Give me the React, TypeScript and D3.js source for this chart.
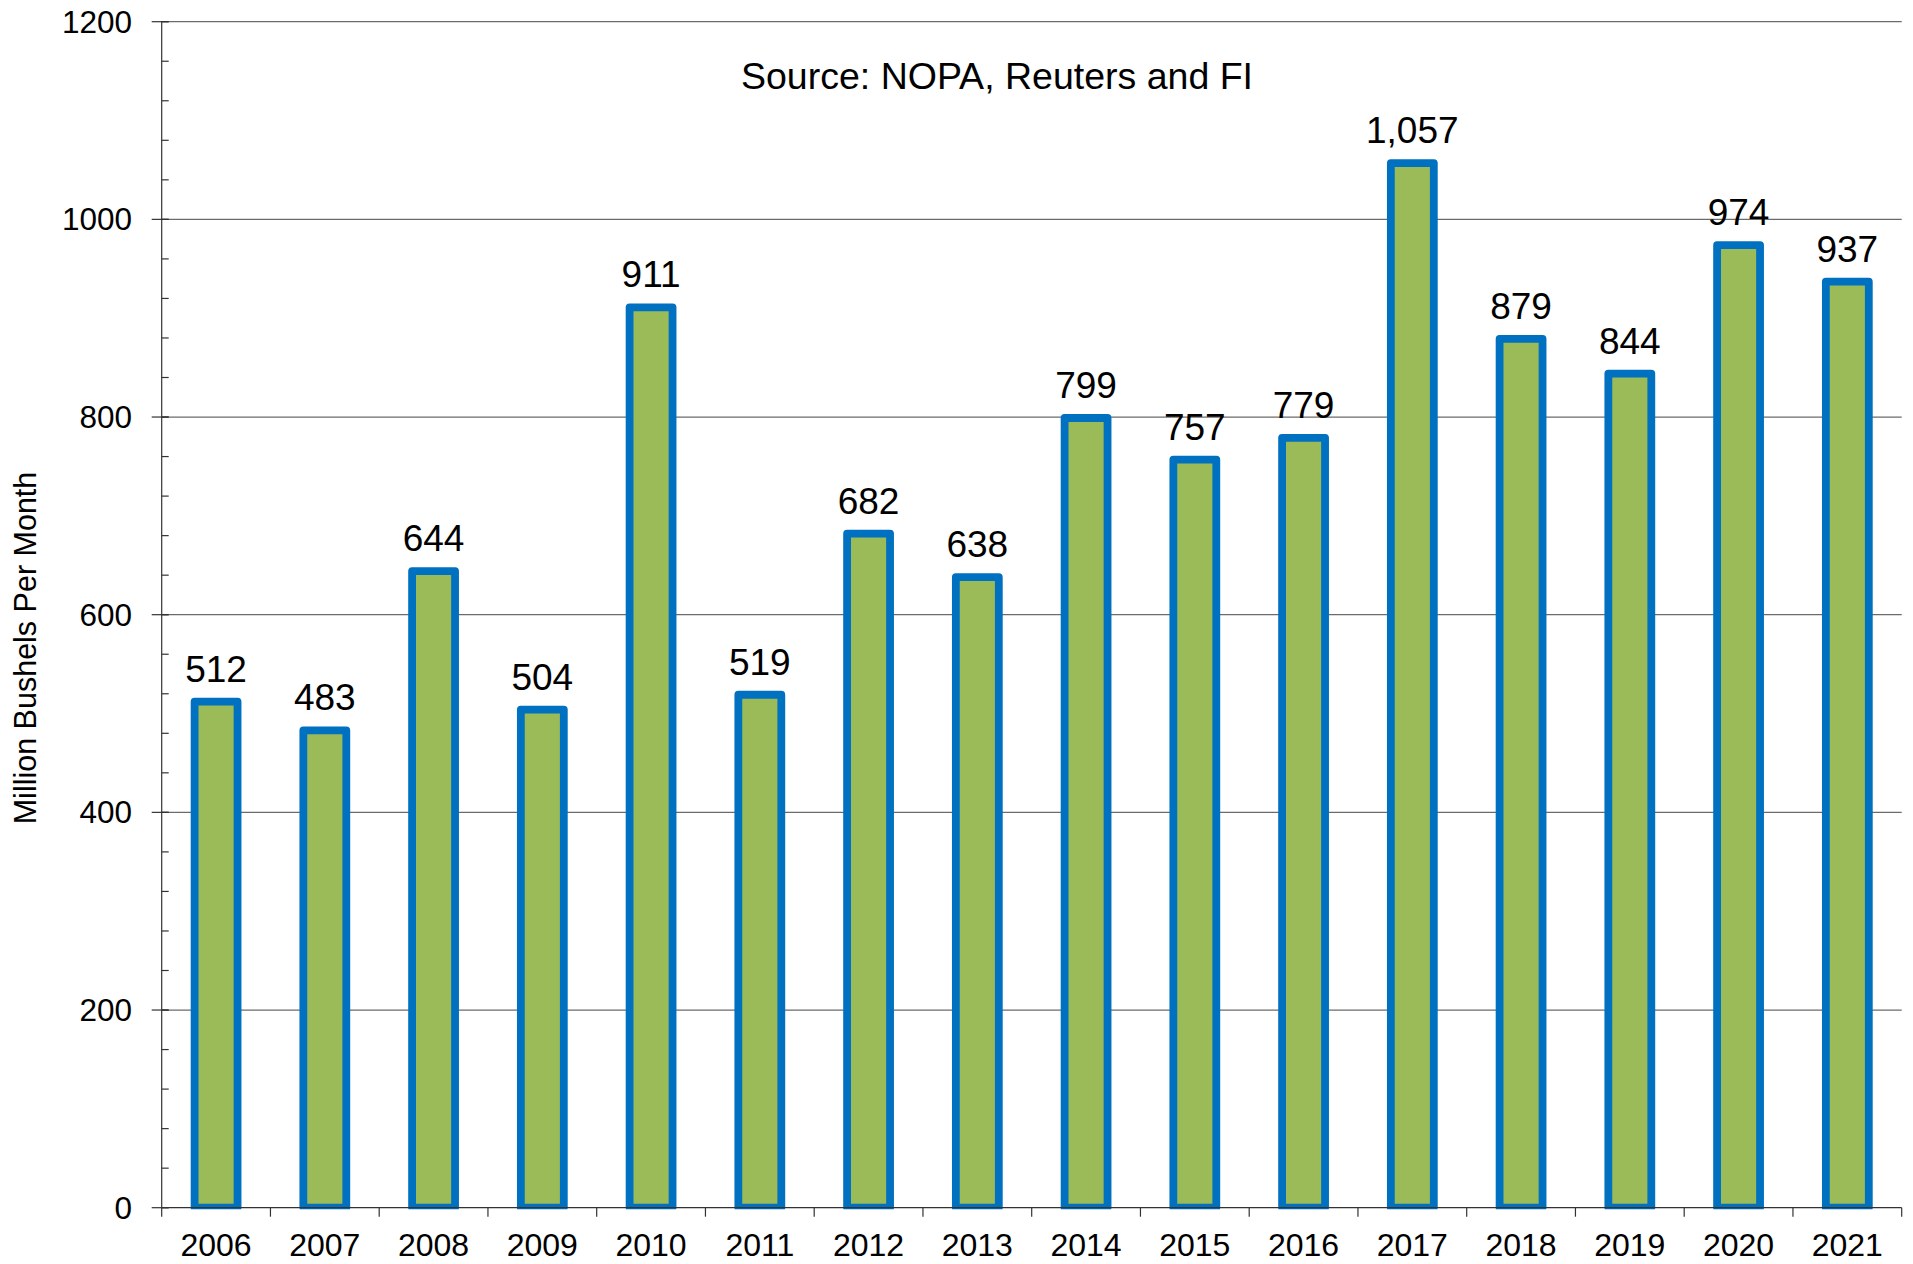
import React from "react";
import * as d3 from "d3";

const years = ["2006","2007","2008","2009","2010","2011","2012","2013","2014","2015","2016","2017","2018","2019","2020","2021"];
const values = [512,483,644,504,911,519,682,638,799,757,779,1057,879,844,974,937];
const majorTicks = [0,200,400,600,800,1000,1200];
const minorTicks = d3.range(0, 1201, 40);

const W = 1913, H = 1264;
const left = 161.7, right = 1901.7, top = 21.7, bottom = 1207.7;
const font = "'Liberation Sans', Arial, sans-serif";

export default function App() {
  const x = d3.scaleBand<string>().domain(years).range([left, right]).padding(0);
  const y = d3.scaleLinear().domain([0, 1200]).range([bottom, top]);
  const bw = x.bandwidth() * 0.395;
  const fmt = d3.format(",");
  const boundaries = years.map((d) => x(d) as number).concat([right]);

  return (
    <svg width={W} height={H} style={{ position: "absolute", left: 0, top: 0, display: "block", background: "#fff" }} fontFamily={font}>
      {majorTicks.filter((t) => t > 0).map((t) => (
        <line key={"g" + t} x1={left} x2={right} y1={y(t)} y2={y(t)} stroke="#6b6b6b" strokeWidth={1.2} />
      ))}
      <defs>
        <clipPath id="plotclip">
          <rect x={left} y={0} width={right - left} height={bottom + 1.5} />
        </clipPath>
      </defs>
      <g clipPath="url(#plotclip)">
        {values.map((v, i) => {
          const cx = (x(years[i]) as number) + x.bandwidth() / 2;
          return (
            <rect key={"b" + i} x={cx - bw / 2} y={y(v)} width={bw} height={bottom - y(v)}
              fill="#9BBB59" stroke="#0070C0" strokeWidth={7.8} strokeLinejoin="round" />
          );
        })}
      </g>
      {values.map((v, i) => {
        const cx = (x(years[i]) as number) + x.bandwidth() / 2;
        return (
          <text key={"l" + i} x={cx} y={y(v) - 20} textAnchor="middle" fontSize={37} fill="#000">{fmt(v)}</text>
        );
      })}
      <line x1={left} x2={left} y1={top} y2={bottom} stroke="#333" strokeWidth={1.2} />
      {minorTicks.map((t) => (
        <line key={"mt" + t} x1={left} x2={left + 7} y1={y(t)} y2={y(t)} stroke="#333" strokeWidth={1.2} />
      ))}
      {majorTicks.map((t) => (
        <g key={"yt" + t}>
          <line x1={left - 10} x2={left + 7} y1={y(t)} y2={y(t)} stroke="#333" strokeWidth={1.2} />
          <text x={132} y={y(t) + 11} textAnchor="end" fontSize={31.5} fill="#000">{t}</text>
        </g>
      ))}
      <line x1={left} x2={right} y1={bottom} y2={bottom} stroke="#333" strokeWidth={1.2} />
      {boundaries.map((b, i) => (
        <line key={"xt" + i} x1={b} x2={b} y1={bottom} y2={bottom + 9} stroke="#333" strokeWidth={1.2} />
      ))}
      {years.map((yr) => (
        <text key={"xl" + yr} x={(x(yr) as number) + x.bandwidth() / 2} y={1256} textAnchor="middle" fontSize={32} fill="#000">{yr}</text>
      ))}
      <text transform={`translate(36,648) rotate(-90)`} textAnchor="middle" fontSize={30.5} fill="#000">Million Bushels Per Month</text>
      <text x={997} y={89} textAnchor="middle" fontSize={37.5} fill="#000">Source: NOPA, Reuters and FI</text>
    </svg>
  );
}
